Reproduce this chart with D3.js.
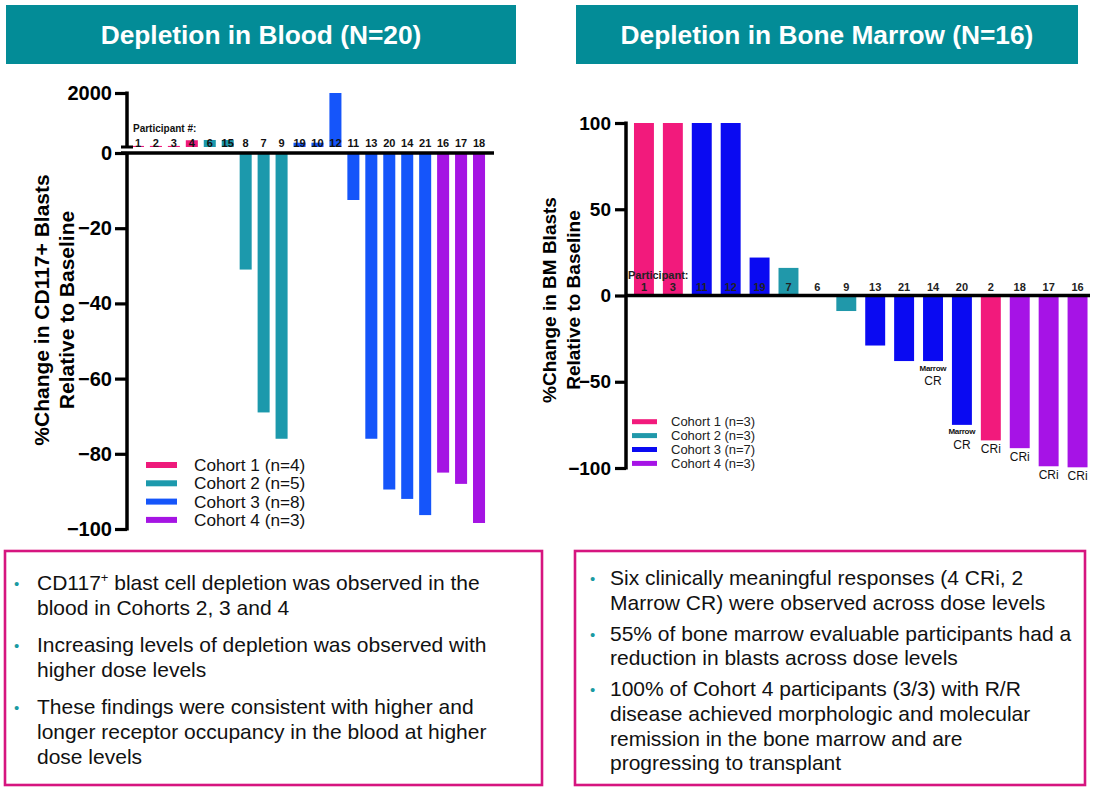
<!DOCTYPE html>
<html><head><meta charset="utf-8">
<script src="https://cdn.jsdelivr.net/npm/d3@7"></script>
<style>
html,body{margin:0;padding:0;background:#fff;}
svg text{font-family:"Liberation Sans",Arial,Helvetica,sans-serif;}
</style></head>
<body>
<svg id="chart" width="1104" height="791"></svg>
<script>
// ---------- DATA ----------
const bloodParticipants = ["1","2","3","4","6","15","8","7","9","19","10","12","11","13","20","14","21","16","17","18"];
const bloodCohort = [1,1,1,1,2,2,2,2,2,3,3,3,3,3,3,3,3,4,4,4];
const bloodChange = [40,40,40,250,260,260,-31,-69,-76,160,160,2000,-12.5,-76,-89.5,-92,-96.3,-85,-88,-98.4];
const bloodUpperTicks = [2000];
const bloodLowerTicks = [0,-20,-40,-60,-80,-100];
const bloodLegend = ["Cohort 1 (n=4)","Cohort 2 (n=5)","Cohort 3 (n=8)","Cohort 4 (n=3)"];

const bmParticipants = ["1","3","11","12","19","7","6","9","13","21","14","20","2","18","17","16"];
const bmCohort = [1,1,3,3,3,2,2,2,3,3,3,3,1,4,4,4];
const bmChange = [100,100,100,100,22,16,0,-9,-29,-38,-38,-75,-84,-88.5,-99,-99.6];
const bmResponse = ["","","","","","","","","","","Marrow CR","Marrow CR","CRi","CRi","CRi","CRi"];
const bmTicks = [100,50,0,-50,-100];
const bmLegend = ["Cohort 1 (n=3)","Cohort 2 (n=3)","Cohort 3 (n=7)","Cohort 4 (n=3)"];

const titles = ["Depletion in Blood (N=20)","Depletion in Bone Marrow (N=16)"];
const leftBullets = [
  ["CD117+ blast cell depletion was observed in the","blood in Cohorts 2, 3 and 4"],
  ["Increasing levels of depletion was observed with","higher dose levels"],
  ["These findings were consistent with higher and","longer receptor occupancy in the blood at higher","dose levels"]
];
const rightBullets = [
  ["Six clinically meaningful responses (4 CRi, 2","Marrow CR) were observed across dose levels"],
  ["55% of bone marrow evaluable participants had a","reduction in blasts across dose levels"],
  ["100% of Cohort 4 participants (3/3) with R/R","disease achieved morphologic and molecular","remission in the bone marrow and are","progressing to transplant"]
];

// ---------- STYLE ----------
const leftColors = {1:"#EE1A7B",2:"#1C99AC",3:"#1555FA",4:"#A514E3"};
const rightColors = {1:"#F21A7C",2:"#2098AA",3:"#0A0AF2",4:"#A613E6"};
const teal = "#038C97";
const magenta = "#D6157F";

const svg = d3.select("#chart");

// ---------- BANNERS ----------
const banners = [{x:6,w:510},{x:576,w:502}];
banners.forEach((b,i)=>{
  svg.append("rect").attr("x",b.x).attr("y",5).attr("width",b.w).attr("height",59).attr("fill",teal);
  svg.append("text").attr("x",b.x+b.w/2).attr("y",44).attr("text-anchor","middle")
    .attr("fill","#fff").attr("font-weight","bold").attr("font-size",26.3).text(titles[i]);
});

// ---------- LEFT CHART ----------
const axL = 127;
const xL = d3.scaleBand().domain(bloodParticipants).range([129,488]).paddingInner(0.33).paddingOuter(0.165);
const yUp = d3.scaleLinear().domain([0,2000]).range([147,93]);
const yLo = d3.scaleLinear().domain([0,-100]).range([153,529]);
const gL = svg.append("g");

const bloodData = bloodParticipants.map((p,i)=>({p,c:bloodCohort[i],v:bloodChange[i]}));
gL.selectAll("rect.bar").data(bloodData).join("rect")
  .attr("x",d=>xL(d.p)).attr("width",xL.bandwidth())
  .attr("y",d=>d.v>=0?yUp(d.v):yLo(0))
  .attr("height",d=>d.v>=0?yUp(0)-yUp(d.v):yLo(d.v)-yLo(0))
  .attr("fill",d=>leftColors[d.c]);

// axes
const axisUp = d3.axisLeft(yUp).tickValues(bloodUpperTicks).tickSize(12).tickFormat(d3.format("d"));
const axisLo = d3.axisLeft(yLo).tickValues(bloodLowerTicks).tickSize(12).tickFormat(d3.format("d"));
function styleAxis(g,fs){
  g.select(".domain").remove();
  g.selectAll(".tick line").attr("stroke","#000").attr("stroke-width",3.2);
  g.selectAll(".tick text").attr("font-size",fs).attr("font-weight","bold").attr("fill","#000")
    .attr("font-family","Liberation Sans, Arial, sans-serif").attr("x",-15);
}
const gUp = gL.append("g").attr("transform",`translate(${axL},0)`).call(axisUp).call(g=>styleAxis(g,20));
const gLo = gL.append("g").attr("transform",`translate(${axL},0)`).call(axisLo).call(g=>styleAxis(g,20));
gLo.selectAll(".tick text").filter(d=>d===0).attr("dy","0.3em");
// axis lines (broken)
gL.append("line").attr("x1",axL).attr("x2",axL).attr("y1",yUp(2000)-1.5).attr("y2",yUp(0)).attr("stroke","#000").attr("stroke-width",3.5);
gL.append("line").attr("x1",axL-6).attr("x2",axL+6).attr("y1",yUp(0)).attr("y2",yUp(0)).attr("stroke","#000").attr("stroke-width",3);
gL.append("line").attr("x1",axL).attr("x2",axL).attr("y1",yLo(0)).attr("y2",yLo(-100)+1.5).attr("stroke","#000").attr("stroke-width",3.5);
gL.append("line").attr("x1",axL-6).attr("x2",494).attr("y1",yLo(0)).attr("y2",yLo(0)).attr("stroke","#000").attr("stroke-width",3.5);

// participant labels
gL.append("text").attr("x",133).attr("y",132).attr("font-size",10).attr("font-weight","bold").attr("fill","#111").text("Participant #:");
gL.selectAll("text.pl").data(bloodData).join("text").attr("class","pl")
  .attr("x",d=>xL(d.p)+xL.bandwidth()/2).attr("y",147).attr("text-anchor","middle")
  .attr("font-size",11).attr("font-weight","bold").attr("fill","#111").text(d=>d.p);

// y title
const tL = gL.append("text").attr("transform","translate(53,310) rotate(-90)").attr("text-anchor","middle")
  .attr("font-weight","bold").attr("font-size",21).attr("fill","#000");
tL.append("tspan").attr("x",0).attr("dy",-4).text("%Change in CD117+ Blasts");
tL.append("tspan").attr("x",0).attr("dy",25).text("Relative to Baseline");

// legend
bloodLegend.forEach((t,i)=>{
  const y = 465 + i*18.3;
  gL.append("rect").attr("x",146).attr("y",y-3).attr("width",31).attr("height",6).attr("fill",leftColors[i+1]);
  gL.append("text").attr("x",194).attr("y",y+6).attr("font-size",17.2).attr("fill","#111").text(t);
});

// ---------- RIGHT CHART ----------
const axR = 626;
const xR = d3.scaleBand().domain(bmParticipants).range([629.5,1092]).paddingInner(0.31).paddingOuter(0.155);
const yR = d3.scaleLinear().domain([-100,100]).range([468,123]);
const gR = svg.append("g");
const bmData = bmParticipants.map((p,i)=>({p,c:bmCohort[i],v:bmChange[i],r:bmResponse[i]}));
gR.selectAll("rect.bar").data(bmData).join("rect")
  .attr("x",d=>xR(d.p)).attr("width",xR.bandwidth())
  .attr("y",d=>yR(Math.max(0,d.v))).attr("height",d=>Math.abs(yR(d.v)-yR(0)))
  .attr("fill",d=>rightColors[d.c]);

const axisR = d3.axisLeft(yR).tickValues(bmTicks).tickSize(11).tickFormat(d3.format("d"));
const gRa = gR.append("g").attr("transform",`translate(${axR},0)`).call(axisR).call(g=>styleAxis(g,19));
gR.append("line").attr("x1",axR).attr("x2",axR).attr("y1",yR(100)-1.5).attr("y2",yR(-100)+1.5).attr("stroke","#000").attr("stroke-width",3.5);
gR.append("line").attr("x1",axR).attr("x2",1090).attr("y1",yR(0)).attr("y2",yR(0)).attr("stroke","#000").attr("stroke-width",3.5);

gR.append("text").attr("x",628).attr("y",279).attr("font-size",11).attr("font-weight","bold").attr("fill","#222").text("Participant:");
gR.selectAll("text.pl").data(bmData).join("text").attr("class","pl")
  .attr("x",d=>xR(d.p)+xR.bandwidth()/2).attr("y",291).attr("text-anchor","middle")
  .attr("font-size",11).attr("font-weight","bold").attr("fill","#222").text(d=>d.p);

// response annotations
bmData.filter(d=>d.r).forEach(d=>{
  const cx = xR(d.p)+xR.bandwidth()/2, b = yR(d.v);
  if(d.r==="Marrow CR"){
    gR.append("text").attr("x",cx).attr("y",b+9.5).attr("text-anchor","middle").attr("font-size",8).attr("font-weight","bold").attr("fill","#111").attr("textLength",27).text("Marrow");
    gR.append("text").attr("x",cx).attr("y",b+24).attr("text-anchor","middle").attr("font-size",12).attr("fill","#111").text("CR");
  } else {
    gR.append("text").attr("x",cx).attr("y",b+13).attr("text-anchor","middle").attr("font-size",12).attr("fill","#111").text(d.r);
  }
});

const tR = gR.append("text").attr("transform","translate(560,300) rotate(-90)").attr("text-anchor","middle")
  .attr("font-weight","bold").attr("font-size",19).attr("fill","#000");
tR.append("tspan").attr("x",0).attr("dy",-4).text("%Change in BM Blasts");
tR.append("tspan").attr("x",0).attr("dy",24).text("Relative to Baseline");

bmLegend.forEach((t,i)=>{
  const y = 421.7 + i*13.9;
  gR.append("rect").attr("x",632).attr("y",y-2.5).attr("width",25).attr("height",5).attr("fill",rightColors[i+1]);
  gR.append("text").attr("x",671).attr("y",y+4.5).attr("font-size",13).attr("fill","#222").text(t);
});

// ---------- TEXT BOXES ----------
function textBox(x,y,w,h,bullets,textX,bulletX,firstBase,lh,gap){
  svg.append("rect").attr("x",x).attr("y",y).attr("width",w).attr("height",h)
    .attr("fill","none").attr("stroke",magenta).attr("stroke-width",2.6);
  let base = firstBase;
  bullets.forEach(lines=>{
    svg.append("text").attr("x",bulletX).attr("y",base-1).attr("font-size",15).attr("fill","#1A9AA2").text("•");
    lines.forEach(line=>{
      const t = svg.append("text").attr("x",textX).attr("y",base).attr("font-size",21).attr("fill","#111");
      if(line.startsWith("CD117+")){
        t.append("tspan").text("CD117");
        t.append("tspan").attr("font-size",13).attr("dy",-8).text("+");
        t.append("tspan").attr("dy",8).text(line.slice(6));
      } else t.text(line);
      base += lh;
    });
    base += gap;
  });
}
textBox(5,551,537,234,leftBullets,37,14,590,25,12);
textBox(575,551,510,234,rightBullets,610,590,585,24.6,6.5);
</script>
</body></html>
